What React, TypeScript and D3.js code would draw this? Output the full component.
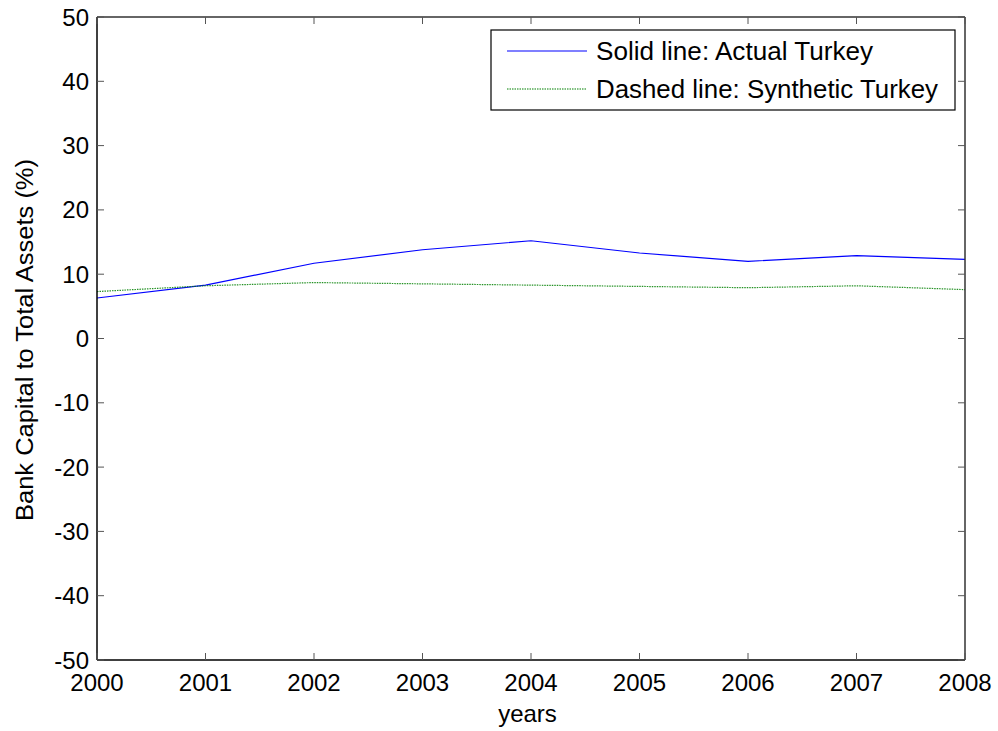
import React from "react";
import * as d3 from "d3";

const years = [2000, 2001, 2002, 2003, 2004, 2005, 2006, 2007, 2008];
const actualTurkey = [6.3, 8.3, 11.7, 13.8, 15.2, 13.3, 12.0, 12.9, 12.3];
const syntheticTurkey = [7.3, 8.2, 8.7, 8.5, 8.3, 8.1, 7.9, 8.2, 7.6];
const yTicks = [-50, -40, -30, -20, -10, 0, 10, 20, 30, 40, 50];
const legendLabels = ["Solid line: Actual Turkey", "Dashed line: Synthetic Turkey"];

const W = 998, H = 731;
const L = 97, R = 965, T = 17, B = 660;
const FONT = "Liberation Sans, Arial, sans-serif";

export default function App() {
  const x = d3.scaleLinear().domain([2000, 2008]).range([L, R]);
  const y = d3.scaleLinear().domain([-50, 50]).range([B, T]);
  const line = d3.line<number>().x((_, i) => x(years[i])).y((v) => y(v));
  const tl = 7;
  return (
    <svg width={W} height={H} style={{ position: "absolute", left: 0, top: 0, background: "#fff" }}>
      <rect x={0} y={0} width={W} height={H} fill="#fff" />
      {/* series */}
      <path d={line(actualTurkey)!} fill="none" stroke="#0000ff" strokeWidth={1.2} />
      <path d={line(syntheticTurkey)!} fill="none" stroke="#008000" strokeWidth={1.2} strokeDasharray="1.5,1" strokeOpacity={0.85} />
      {/* frame */}
      <line x1={L} x2={R} y1={T} y2={T} stroke="#333" strokeWidth={1.5} />
      <line x1={R} x2={R} y1={T} y2={B} stroke="#333" strokeWidth={1.5} />
      <line x1={L} x2={L} y1={T} y2={B} stroke="#000" strokeWidth={1.5} />
      <line x1={L} x2={R} y1={B} y2={B} stroke="#000" strokeWidth={1.5} />
      {/* y ticks */}
      {yTicks.map((t) => (
        <g key={"y" + t}>
          <line x1={L} x2={L + tl} y1={y(t)} y2={y(t)} stroke="#555" strokeWidth={1} />
          <line x1={R} x2={R - tl} y1={y(t)} y2={y(t)} stroke="#555" strokeWidth={1} />
          <text x={L - 8} y={y(t) + 8.5} textAnchor="end" fontFamily={FONT} fontSize={24} fill="#000">
            {t}
          </text>
        </g>
      ))}
      {/* x ticks */}
      {years.map((t) => (
        <g key={"x" + t}>
          <line x1={x(t)} x2={x(t)} y1={B} y2={B - tl} stroke="#555" strokeWidth={1} />
          <line x1={x(t)} x2={x(t)} y1={T} y2={T + tl} stroke="#555" strokeWidth={1} />
          <text x={x(t)} y={691} textAnchor="middle" fontFamily={FONT} fontSize={24} fill="#000">
            {t}
          </text>
        </g>
      ))}
      {/* axis labels */}
      <text x={527.5} y={722} textAnchor="middle" fontFamily={FONT} fontSize={24} fill="#000">
        years
      </text>
      <text transform={`translate(33,340) rotate(-90)`} textAnchor="middle" fontFamily={FONT} fontSize={23}
        textLength={362} lengthAdjust="spacingAndGlyphs" fill="#000">
        Bank Capital to Total Assets (%)
      </text>
      {/* legend */}
      <rect x={491} y={30} width={464} height={80} fill="#fff" stroke="#000" strokeWidth={1.2} />
      <line x1={507} x2={587} y1={51} y2={51} stroke="#0000ff" strokeWidth={1.2} />
      <line x1={507} x2={587} y1={89} y2={89} stroke="#008000" strokeWidth={1.2} strokeDasharray="1.5,1" />
      <text x={596} y={60} fontFamily={FONT} fontSize={25} textLength={277} lengthAdjust="spacingAndGlyphs" fill="#000">
        {legendLabels[0]}
      </text>
      <text x={596} y={98} fontFamily={FONT} fontSize={25} textLength={342} lengthAdjust="spacingAndGlyphs" fill="#000">
        {legendLabels[1]}
      </text>
    </svg>
  );
}
